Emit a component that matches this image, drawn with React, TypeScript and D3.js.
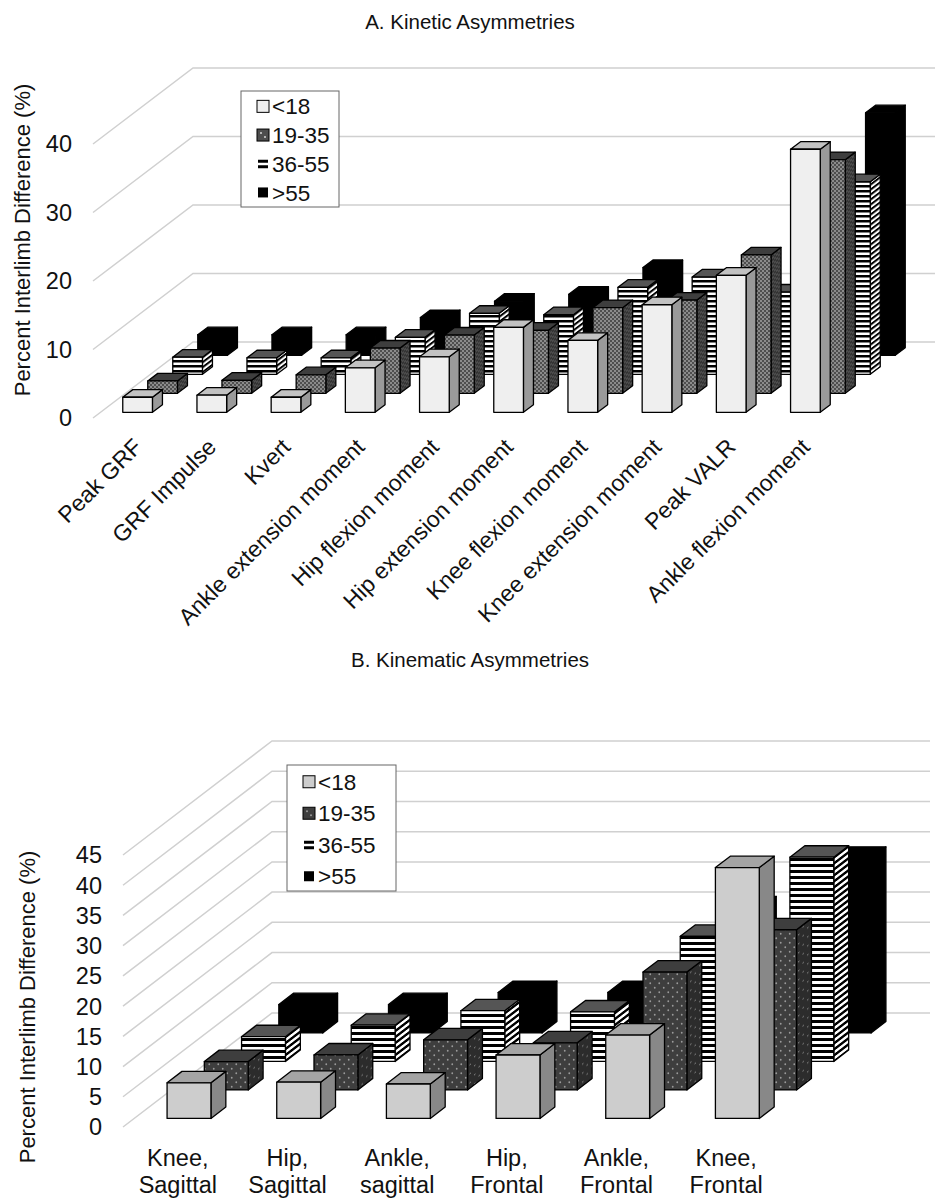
import * as d3 from "d3";
import { ReactElement } from "react";

const FONT = "'Liberation Sans', Arial, Helvetica, sans-serif";

const seriesNames = ["<18", "19-35", "36-55", ">55"];

// A. Kinetic asymmetries
const kineticCategories = [
  "Peak GRF",
  "GRF Impulse",
  "Kvert",
  "Ankle extension moment",
  "Hip flexion moment",
  "Hip extension moment",
  "Knee flexion moment",
  "Knee extension moment",
  "Peak VALR",
  "Ankle flexion moment",
];
const kineticUnder18 = [2.2, 2.5, 2.2, 6.5, 8.1, 12.4, 10.5, 15.7, 20.0, 38.4];
const kinetic19to35 = [1.8, 1.9, 2.7, 6.6, 8.5, 9.2, 12.5, 13.6, 20.2, 34.1];
const kinetic36to55 = [2.5, 2.4, 2.4, 5.4, 8.9, 8.7, 12.7, 14.2, 12.0, 28.1];
const kineticOver55 = [3.0, 3.0, 3.0, 5.5, 7.9, 8.9, 12.8, 11.0, 14.0, 35.4];
const kineticTicks = [0, 10, 20, 30, 40];

// B. Kinematic asymmetries
const kinematicCategories = [
  "Knee, Sagittal",
  "Hip, Sagittal",
  "Ankle, sagittal",
  "Hip, Frontal",
  "Ankle, Frontal",
  "Knee, Frontal",
];
const kinematicUnder18 = [5.9, 6.0, 5.7, 10.5, 13.8, 41.5];
const kinematic19to35 = [4.7, 5.8, 8.3, 7.8, 19.5, 26.5];
const kinematic36to55 = [4.1, 6.0, 8.4, 8.2, 20.7, 33.8];
const kinematicOver55 = [4.7, 4.7, 6.7, 6.7, 20.7, 28.9];
const kinematicTicks = [0, 5, 10, 15, 20, 25, 30, 35, 40, 45];

interface Look {
  lightFront: string;
  lightTop: string;
  lightSide: string;
  dotBg: string;
  dotSideBg: string;
  dotFg: string;
  dotGap: number;
  dotR: number;
  stripe: number;
}

interface Chart3DProps {
  id: string;
  title: string;
  titleY: number;
  categories: string[];
  series: number[][];
  ticks: number[];
  frontLeft: number;
  frontRight: number;
  floorY: number;
  topY: number;
  depthX: number;
  depthY: number;
  wallRight: number;
  tickX: number;
  axisTitle: { x: number; y: number };
  legend: { x: number; y: number; w: number; h: number; rowH: number };
  rotatedLabels: boolean;
  labelY: number;
  look: Look;
}

const Chart3D = (props: Chart3DProps): ReactElement => {
  const { id, categories, series, ticks, frontLeft, frontRight, floorY, topY, depthX, depthY, look, legend } = props;

  const xScale = d3.scaleBand<string>().domain(categories).range([frontLeft, frontRight]).paddingInner(0.6).paddingOuter(0.3);
  const yScale = d3.scaleLinear().domain([0, d3.max(ticks)!]).range([floorY, topY]);
  // depth position of each series, 0 = front, 1 = back wall
  const zScale = d3.scaleBand<string>().domain(seriesNames).range([0, 1]).paddingInner(0.6).paddingOuter(0.3);

  const angle = (Math.atan2(depthY, depthX) * 180) / Math.PI;
  const bw = xScale.bandwidth();
  const dx = zScale.bandwidth() * depthX;
  const dy = zScale.bandwidth() * depthY;

  const fills = [
    { front: look.lightFront, top: look.lightTop, side: look.lightSide },
    { front: `url(#${id}-dots)`, top: "#3e3e3e", side: `url(#${id}-dotsSide)` },
    { front: `url(#${id}-stripes)`, top: "#555", side: `url(#${id}-stripesSide)` },
    { front: "#000", top: "#000", side: "#000" },
  ];

  const pts = (p: number[][]) => p.map((d) => d.join(",")).join(" ");

  const boxes: ReactElement[] = [];
  for (let s = seriesNames.length - 1; s >= 0; s--) {
    const zf = zScale(seriesNames[s])!;
    categories.forEach((c, i) => {
      const v = series[s][i];
      const x = xScale(c)! + zf * depthX;
      const yTop = yScale(v) - zf * depthY;
      const yBot = yScale(0) - zf * depthY;
      const f = fills[s];
      boxes.push(
        <g key={`${s}-${i}`} stroke="#000" strokeWidth={1.3} strokeLinejoin="round">
          <polygon points={pts([[x + bw, yTop], [x + bw + dx, yTop - dy], [x + bw + dx, yBot - dy], [x + bw, yBot]])} fill={f.side} />
          <polygon points={pts([[x, yTop], [x + bw, yTop], [x + bw + dx, yTop - dy], [x + dx, yTop - dy]])} fill={f.top} />
          <rect x={x} y={yTop} width={bw} height={yBot - yTop} fill={f.front} />
        </g>
      );
    });
  }

  const g = look.dotGap;
  const sw = 12;

  return (
    <g fontFamily={FONT}>
      <defs>
        <pattern id={`${id}-dots`} width={g} height={g} patternUnits="userSpaceOnUse">
          <rect width={g} height={g} fill={look.dotBg} />
          <circle cx={g / 4} cy={g / 4} r={look.dotR} fill={look.dotFg} />
          <circle cx={(3 * g) / 4} cy={(3 * g) / 4} r={look.dotR} fill={look.dotFg} />
        </pattern>
        <pattern id={`${id}-dotsSide`} width={g} height={g} patternUnits="userSpaceOnUse" patternTransform={`skewY(${-angle})`}>
          <rect width={g} height={g} fill={look.dotSideBg} />
          <circle cx={g / 4} cy={g / 4} r={look.dotR * 0.8} fill="#888" />
          <circle cx={(3 * g) / 4} cy={(3 * g) / 4} r={look.dotR * 0.8} fill="#888" />
        </pattern>
        <pattern id={`${id}-stripes`} width={10} height={look.stripe} patternUnits="userSpaceOnUse">
          <rect width={10} height={look.stripe} fill="#fff" />
          <rect width={10} height={look.stripe / 2} fill="#000" />
        </pattern>
        <pattern id={`${id}-stripesSide`} width={10} height={look.stripe} patternUnits="userSpaceOnUse" patternTransform={`skewY(${-angle})`}>
          <rect width={10} height={look.stripe} fill="#fff" />
          <rect width={10} height={look.stripe / 2} fill="#000" />
        </pattern>
      </defs>

      <text x={470} y={props.titleY} textAnchor="middle" fontSize={20.5} fill="#111">
        {props.title}
      </text>

      {/* side wall and back wall gridlines */}
      {ticks.map((t) => (
        <path
          key={t}
          d={`M${frontLeft},${yScale(t)}L${frontLeft + depthX},${yScale(t) - depthY}L${props.wallRight},${yScale(t) - depthY}`}
          fill="none"
          stroke="#d0d0d0"
          strokeWidth={1.5}
        />
      ))}

      {ticks.map((t) => (
        <text key={t} x={props.tickX} y={yScale(t)} dy="0.36em" textAnchor="end" fontSize={23.5} fill="#111">
          {t}
        </text>
      ))}

      <text
        transform={`translate(${props.axisTitle.x},${props.axisTitle.y}) rotate(-90)`}
        textAnchor="middle"
        dy="0.35em"
        fontSize={22}
        fill="#111"
      >
        Percent Interlimb Difference (%)
      </text>

      {boxes}

      {/* category labels */}
      {categories.map((c) => {
        const cx = xScale(c)! + bw / 2;
        if (props.rotatedLabels) {
          return (
            <text key={c} transform={`translate(${cx + 8},${props.labelY}) rotate(-45)`} textAnchor="end" dy="0.33em" fontSize={23} fill="#111">
              {c}
            </text>
          );
        }
        const lines = c.split(" ");
        return (
          <text key={c} x={cx} y={props.labelY} textAnchor="middle" fontSize={23.5} fill="#111">
            {lines.map((l, k) => (
              <tspan key={k} x={cx} dy={k === 0 ? 0 : 27}>
                {l}
              </tspan>
            ))}
          </text>
        );
      })}

      {/* legend */}
      <g>
        <rect x={legend.x} y={legend.y} width={legend.w} height={legend.h} fill="#fff" stroke="#666" strokeWidth={1} />
        {seriesNames.map((s, i) => {
          const cy = legend.y + legend.rowH * (i + 0.5) + 1;
          const sx = legend.x + 16;
          let swatch: ReactElement;
          if (i === 0) swatch = <rect x={sx} y={cy - 6} width={sw} height={sw} fill={look.lightFront} stroke="#000" strokeWidth={1} />;
          else if (i === 1)
            swatch = (
              <g>
                <rect x={sx} y={cy - 6} width={sw} height={sw} fill={look.dotBg} stroke="#000" strokeWidth={1} />
                <circle cx={sx + 4} cy={cy - 2} r={1} fill={look.dotFg} />
                <circle cx={sx + 8} cy={cy + 2} r={1} fill={look.dotFg} />
              </g>
            );
          else if (i === 2)
            swatch = (
              <g fill="#000">
                <rect x={sx + 1} y={cy - 4} width={sw - 2} height={3} />
                <rect x={sx + 1} y={cy + 1.5} width={sw - 2} height={3} />
              </g>
            );
          else swatch = <rect x={sx + 1} y={cy - 5} width={sw - 2} height={sw - 2} fill="#000" />;
          return (
            <g key={s}>
              {swatch}
              <text x={sx + sw + 3} y={cy} dy="0.36em" fontSize={22.5} fill="#111">
                {s}
              </text>
            </g>
          );
        })}
      </g>
    </g>
  );
};

const App = (): ReactElement => {
  return (
    <svg width={941} height={1201} style={{ position: "absolute", left: 0, top: 0, background: "#fff" }}>
      <rect width={941} height={1201} fill="#fff" />
      <Chart3D
        id="kinetic"
        title="A. Kinetic Asymmetries"
        titleY={29}
        categories={kineticCategories}
        series={[kineticUnder18, kinetic19to35, kinetic36to55, kineticOver55]}
        ticks={kineticTicks}
        frontLeft={93}
        frontRight={835}
        floorY={418}
        topY={144}
        depthX={100}
        depthY={76}
        wallRight={935}
        tickX={72}
        axisTitle={{ x: 22, y: 240 }}
        legend={{ x: 241, y: 91, w: 98, h: 116, rowH: 28.7 }}
        rotatedLabels={true}
        labelY={443}
        look={{
          lightFront: "#efefef",
          lightTop: "#c2c2c2",
          lightSide: "#9a9a9a",
          dotBg: "#4e4e4e",
          dotSideBg: "#333",
          dotFg: "#d8d8d8",
          dotGap: 4,
          dotR: 0.8,
          stripe: 5,
        }}
      />
      <Chart3D
        id="kinematic"
        title="B. Kinematic Asymmetries"
        titleY={667}
        categories={kinematicCategories}
        series={[kinematicUnder18, kinematic19to35, kinematic36to55, kinematicOver55]}
        ticks={kinematicTicks}
        frontLeft={123}
        frontRight={781}
        floorY={1127}
        topY={855}
        depthX={149}
        depthY={114}
        wallRight={930}
        tickX={102}
        axisTitle={{ x: 27, y: 1007 }}
        legend={{ x: 287, y: 765, w: 109, h: 126, rowH: 31.5 }}
        rotatedLabels={false}
        labelY={1166}
        look={{
          lightFront: "#cdcdcd",
          lightTop: "#a4a4a4",
          lightSide: "#888",
          dotBg: "#3e3e3e",
          dotSideBg: "#2c2c2c",
          dotFg: "#9a9a9a",
          dotGap: 9,
          dotR: 0.9,
          stripe: 6,
        }}
      />
    </svg>
  );
};

export default App;
